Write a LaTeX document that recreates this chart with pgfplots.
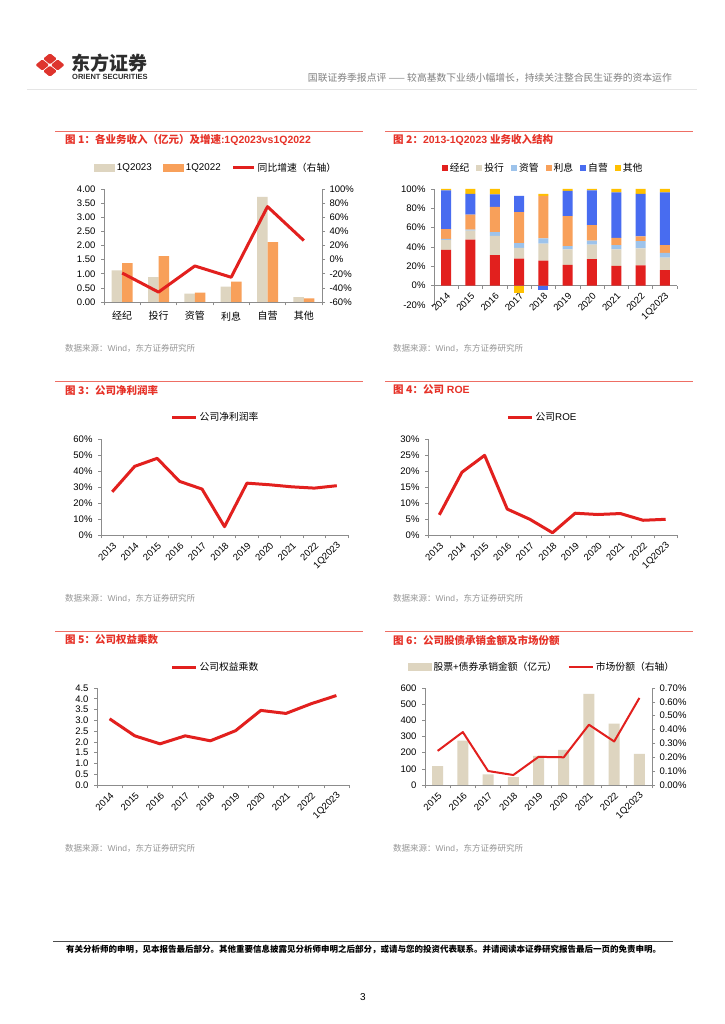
\documentclass[border=0pt]{standalone}
\usepackage{pgfplots}
\pgfplotsset{compat=1.18}
\usepackage{fontspec}
\setmainfont{Liberation Sans}
\newfontfamily\cjk{Noto Sans CJK SC}

\definecolor{cred}{RGB}{226,32,30}
\definecolor{cbeige}{RGB}{222,213,192}
\definecolor{corange}{RGB}{248,160,90}
\definecolor{clblue}{RGB}{157,195,235}
\definecolor{cblue}{RGB}{72,108,240}
\definecolor{cgold}{RGB}{255,192,0}
\definecolor{titlered}{RGB}{230,50,40}
\definecolor{rulered}{RGB}{238,110,100}
\definecolor{axgray}{RGB}{140,140,140}
\definecolor{srcgray}{RGB}{150,150,150}
\definecolor{logored}{RGB}{222,52,45}

\pgfplotsset{
  panel/.style={
    scale only axis, anchor=south west,
    axis x line*=bottom, axis y line*=left,
    every outer x axis line/.append style={-},
    every outer y axis line/.append style={-},
    axis line style={draw=axgray, line width=0.6pt},
    tick style={draw=axgray, line width=0.6pt},
    tick align=outside,
    major tick length=3pt, minor tick length=3.5pt,
    major x tick style={draw=none},
    tick label style={font=\fontsize{9.5}{10}\selectfont},
    yticklabel style={xshift=-2pt},
    legend columns=-1,
    legend style={draw=none, fill=none, inner sep=0pt, anchor=center,
      font=\fontsize{9.8}{11}\selectfont,
      /tikz/every even column/.append style={column sep=9pt}},
    clip=false,
  },
  yearlabels/.style={xticklabel style={rotate=45, anchor=east, yshift=-6pt, xshift=1pt, font=\fontsize{9.5}{10}\selectfont}},
  redline/.style={cred, line width=3pt, line join=round},
  sq/.style={legend image code/.code={\fill[#1] (0pt,-3pt) rectangle (6pt,3pt);}},
}

\begin{document}
\begin{tikzpicture}[x=1pt, y=1pt]
\fill[white] (0,0) rectangle (724,1024);
\path[use as bounding box] (0,0) rectangle (724,1024);

% header
\foreach \dx/\dy in {0/6.2, 0/-6.2, -7.7/0, 7.7/0}
  \fill[logored, rounded corners=1.3pt, shift={(50+\dx,959+\dy)}] (-6.9,0) -- (0,5.6) -- (6.9,0) -- (0,-5.6) -- cycle;
\node[anchor=west, inner sep=0pt, font=\cjk\bfseries\fontsize{19}{19}\selectfont, text={rgb,255:red,45;green,45;blue,45}] at (71,961) {东方证券};
\node[anchor=west, inner sep=0pt, font=\bfseries\fontsize{7.5}{8}\selectfont, text={rgb,255:red,45;green,45;blue,45}] at (72,947) {ORIENT SECURITIES};
\node[anchor=east, inner sep=0pt, text=gray, font=\cjk\fontsize{9.8}{10}\selectfont] at (672,946) {国联证券季报点评 —— 较高基数下业绩小幅增长，持续关注整合民生证券的资本运作};
\draw[black!10, line width=0.6pt] (27,935) -- (697,935);

% panel rules and titles
\foreach \yy in {893,643,393} {
  \draw[rulered, line width=0.8pt] (55,\yy) -- (363,\yy);
  \draw[rulered, line width=0.8pt] (385,\yy) -- (693,\yy);
}
\begin{scope}[every node/.style={anchor=west, inner sep=0pt, text=titlered, font=\bfseries\fontsize{10.5}{12}\selectfont}]
\node at (65,884) {{\cjk 图 1：各业务收入（亿元）及增速}:1Q2023vs1Q2022};
\node at (393,884) {{\cjk 图 2：}2013-1Q2023 {\cjk 业务收入结构}};
\node at (65,634) {{\cjk 图 3：公司净利润率}};
\node at (393,634) {{\cjk 图 4：公司} ROE};
\node at (65,384) {{\cjk 图 5：公司权益乘数}};
\node at (393,384) {{\cjk 图 6：公司股债承销金额及市场份额}};
\end{scope}
\begin{scope}[every node/.style={anchor=west, inner sep=0pt, text=srcgray, font=\fontsize{8.5}{9}\selectfont}]
\foreach \xx/\yy in {65/676, 393/676, 65/426, 393/426, 65/176, 393/176}
  \node at (\xx,\yy) {{\cjk 数据来源：}Wind{\cjk ，东方证券研究所}};
\end{scope}

% ---------- figure 1
\begin{axis}[panel, at={(104pt,722pt)}, width=218pt, height=113pt,
  xmin=-0.5, xmax=5.5, ymin=0, ymax=4,
  xtick={0,...,5}, minor xtick={-0.5,0.5,...,5.5},
  xticklabels={经纪,投行,资管,利息,自营,其他},
  xticklabel style={font=\cjk\fontsize{10}{11}\selectfont, yshift=-3pt},
  ytick={0,0.5,...,4},
  yticklabels={0.00,0.50,1.00,1.50,2.00,2.50,3.00,3.50,4.00},
  legend style={at={(0.514,1.186)}},
  ybar=0pt, bar width=10.5pt]
\addplot[fill=cbeige, draw=none, bar shift=-5.25pt,
  legend image code/.code={\fill[cbeige] (0pt,-4pt) rectangle (21pt,4pt);}]
  coordinates {(0,1.12) (1,0.88) (2,0.30) (3,0.54) (4,3.72) (5,0.17)};
\addlegendentry{1Q2023}
\addplot[fill=corange, draw=none, bar shift=5.25pt,
  legend image code/.code={\fill[corange] (0pt,-4pt) rectangle (21pt,4pt);}]
  coordinates {(0,1.38) (1,1.62) (2,0.33) (3,0.72) (4,2.12) (5,0.13)};
\addlegendentry{1Q2022}
\addlegendimage{legend image code/.code={\draw[cred, line width=3pt] (0pt,0pt) -- (21pt,0pt);}}
\addlegendentry{\cjk 同比增速（右轴）}
\end{axis}
\begin{axis}[panel, at={(104pt,722pt)}, width=218pt, height=113pt,
  axis x line=none, axis y line*=right,
  every outer y axis line/.append style={-},
  xmin=-0.5, xmax=5.5, ymin=-60, ymax=100,
  ytick={-60,-40,...,100},
  yticklabels={-60\%,-40\%,-20\%,0\%,20\%,40\%,60\%,80\%,100\%},
  yticklabel style={xshift=3pt}]
\addplot[redline] coordinates {(0,-19) (1,-46) (2,-9) (3,-25) (4,75) (5,27)};
\end{axis}

% ---------- figure 2
\begin{axis}[panel, yearlabels, at={(434pt,719pt)}, width=243pt, height=116pt,
  axis x line=middle, axis y line=left,
  every inner x axis line/.append style={-},
  every outer y axis line/.append style={-},
  hide obscured y ticks=false,
  tick align=outside,
  xmin=-0.5, xmax=9.5, ymin=-20, ymax=100,
  xtick={0,...,9}, minor xtick={-0.5,0.5,...,9.5},
  xticklabels={2014,2015,2016,2017,2018,2019,2020,2021,2022,1Q2023},
  ytick={-20,0,...,100},
  yticklabels={-20\%,0\%,20\%,40\%,60\%,80\%,100\%},
  ybar stacked, bar width=10pt,
  legend style={at={(0.449,1.181)}, /tikz/every even column/.append style={column sep=5pt}}]
\addplot[fill=cred, draw=none, sq=cred] coordinates {(0,37) (1,47.5) (2,31.5) (3,28) (4,26) (5,21.5) (6,27.5) (7,20.5) (8,21) (9,16)};
\addlegendentry{\cjk 经纪}
\addplot[fill=cbeige, draw=none, sq=cbeige] coordinates {(0,10) (1,9.5) (2,20) (3,11) (4,17.5) (5,16) (6,15) (7,17) (8,17.5) (9,13)};
\addlegendentry{\cjk 投行}
\addplot[fill=clblue, draw=none, sq=clblue] coordinates {(0,1.5) (1,1) (2,4) (3,5) (4,5.5) (5,3.5) (6,4) (7,4.5) (8,7.5) (9,5)};
\addlegendentry{\cjk 资管}
\addplot[fill=corange, draw=none, sq=corange] coordinates {(0,10) (1,15.5) (2,26) (3,32) (4,44) (5,31) (6,16) (7,7.5) (8,5) (9,8)};
\addlegendentry{\cjk 利息}
\addplot[fill=cblue, draw=none, sq=cblue] coordinates {(0,40) (1,21.5) (2,13) (3,17) (4,0) (5,26) (6,36) (7,47) (8,44) (9,54.5)};
\addlegendentry{\cjk 自营}
\addplot[fill=cgold, draw=none, sq=cgold] coordinates {(0,1.5) (1,5) (2,5.5) (3,0) (4,2) (5,2) (6,1.5) (7,3.5) (8,5) (9,3.5)};
\addlegendentry{\cjk 其他}
\end{axis}
\begin{axis}[scale only axis, anchor=south west, at={(434pt,719pt)}, width=243pt, height=116pt,
  hide axis, xmin=-0.5, xmax=9.5, ymin=-20, ymax=100, ybar, bar width=10pt]
\addplot[fill=cgold, draw=none, bar shift=0pt] coordinates {(3,-7.5)};
\addplot[fill=cblue, draw=none, bar shift=0pt] coordinates {(4,-5)};
\end{axis}

% ---------- figure 3
\begin{axis}[panel, yearlabels, at={(101pt,489pt)}, width=247pt, height=96pt,
  xmin=-0.5, xmax=10.5, ymin=0, ymax=60,
  xtick={0,...,10}, minor xtick={-0.5,0.5,...,10.5},
  xticklabels={2013,2014,2015,2016,2017,2018,2019,2020,2021,2022,1Q2023},
  ytick={0,10,...,60},
  yticklabels={0\%,10\%,20\%,30\%,40\%,50\%,60\%},
  legend style={at={(0.464,1.229)}}]
\addplot[redline, legend image code/.code={\draw[cred, line width=3pt] (0pt,0pt) -- (24pt,0pt);}]
  coordinates {(0,27) (1,42.9) (2,47.9) (3,33.5) (4,28.7) (5,5.2) (6,32.4) (7,31.4) (8,30.1) (9,29.3) (10,30.8)};
\addlegendentry{\cjk 公司净利润率}
\end{axis}

% ---------- figure 4
\begin{axis}[panel, yearlabels, at={(428pt,489pt)}, width=249pt, height=96pt,
  xmin=-0.5, xmax=10.5, ymin=0, ymax=30,
  xtick={0,...,10}, minor xtick={-0.5,0.5,...,10.5},
  xticklabels={2013,2014,2015,2016,2017,2018,2019,2020,2021,2022,1Q2023},
  ytick={0,5,...,30},
  yticklabels={0\%,5\%,10\%,15\%,20\%,25\%,30\%},
  legend style={at={(0.46,1.229)}}]
\addplot[redline, legend image code/.code={\draw[cred, line width=3pt] (0pt,0pt) -- (24pt,0pt);}]
  coordinates {(0,6.3) (1,19.6) (2,24.9) (3,8.1) (4,4.9) (5,0.7) (6,6.8) (7,6.4) (8,6.7) (9,4.6) (10,4.9)};
\addlegendentry{{\cjk 公司}ROE}
\end{axis}

% ---------- figure 5
\begin{axis}[panel, yearlabels, at={(97pt,239pt)}, width=252pt, height=97pt,
  xmin=-0.5, xmax=9.5, ymin=0, ymax=4.5,
  xtick={0,...,9}, minor xtick={-0.5,0.5,...,9.5},
  xticklabels={2014,2015,2016,2017,2018,2019,2020,2021,2022,1Q2023},
  ytick={0,0.5,...,4.5},
  yticklabels={0.0,0.5,1.0,1.5,2.0,2.5,3.0,3.5,4.0,4.5},
  legend style={at={(0.47,1.216)}}]
\addplot[redline, legend image code/.code={\draw[cred, line width=3pt] (0pt,0pt) -- (24pt,0pt);}]
  coordinates {(0,3.07) (1,2.28) (2,1.91) (3,2.28) (4,2.05) (5,2.52) (6,3.46) (7,3.32) (8,3.77) (9,4.15)};
\addlegendentry{\cjk 公司权益乘数}
\end{axis}

% ---------- figure 6
\begin{axis}[panel, yearlabels, at={(425pt,239pt)}, width=227pt, height=97pt,
  xmin=-0.5, xmax=8.5, ymin=0, ymax=600,
  xtick={0,...,8}, minor xtick={-0.5,0.5,...,8.5},
  xticklabels={2015,2016,2017,2018,2019,2020,2021,2022,1Q2023},
  ytick={0,100,...,600},
  yticklabels={0,100,200,300,400,500,600},
  legend style={at={(0.515,1.216)}},
  ybar, bar width=11pt]
\addplot[fill=cbeige, draw=none, bar shift=0pt,
  legend image code/.code={\fill[cbeige] (0pt,-3.5pt) rectangle (24pt,4pt);}]
  coordinates {(0,116) (1,275) (2,66) (3,48) (4,180) (5,217) (6,563) (7,379) (8,193)};
\addlegendentry{{\cjk 股票}+{\cjk 债券承销金额（亿元）}}
\addlegendimage{legend image code/.code={\draw[cred, line width=2pt] (0pt,0pt) -- (24pt,0pt);}}
\addlegendentry{\cjk 市场份额（右轴）}
\end{axis}
\begin{axis}[panel, at={(425pt,239pt)}, width=227pt, height=97pt,
  axis x line=none, axis y line*=right,
  every outer y axis line/.append style={-},
  xmin=-0.5, xmax=8.5, ymin=0, ymax=0.7,
  ytick={0,0.1,...,0.7},
  yticklabels={0.00\%,0.10\%,0.20\%,0.30\%,0.40\%,0.50\%,0.60\%,0.70\%},
  yticklabel style={xshift=3pt}]
\addplot[cred, line width=2pt, line join=round]
  coordinates {(0,0.246) (1,0.382) (2,0.101) (3,0.072) (4,0.203) (5,0.200) (6,0.435) (7,0.314) (8,0.628)};
\end{axis}

% footer
\draw[black!70, line width=0.8pt] (53,83) -- (673,83);
\node[anchor=west, inner sep=0pt, font=\cjk\bfseries\fontsize{8.5}{10}\selectfont] at (66,75) {有关分析师的申明，见本报告最后部分。其他重要信息披露见分析师申明之后部分，或请与您的投资代表联系。并请阅读本证券研究报告最后一页的免责申明。};
\node[inner sep=0pt, font=\fontsize{10}{11}\selectfont] at (363,27) {3};
\end{tikzpicture}
\end{document}
